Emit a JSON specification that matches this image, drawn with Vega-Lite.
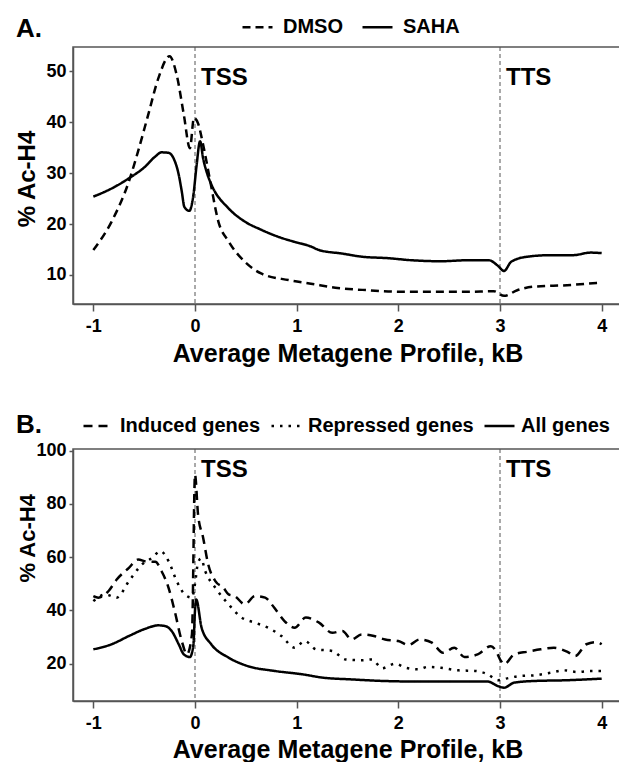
{
  "$schema": "https://vega.github.io/schema/vega-lite/v6.json",
  "background": "white",
  "autosize": {"type": "pad"},
  "padding": {"left": 14, "top": 9, "right": 0, "bottom": 0},
  "spacing": 145,
  "bounds": "flush",
  "config": {
    "font": "Liberation Sans",
    "view": {"stroke": "#555", "strokeWidth": 1.5},
    "axis": {
      "grid": false,
      "domainColor": "#555",
      "domainWidth": 1.5,
      "tickColor": "#555",
      "tickWidth": 1.5,
      "labelFont": "Liberation Sans",
      "labelFontWeight": "bold",
      "labelFontSize": 18,
      "labelColor": "black",
      "titleFont": "Liberation Sans",
      "titleFontWeight": "bold",
      "titleColor": "black"
    },
    "legend": {
      "orient": "none",
      "direction": "horizontal",
      "symbolType": "stroke",
      "symbolSize": 900,
      "symbolStrokeWidth": 2.5,
      "symbolStrokeColor": "black",
      "labelFont": "Liberation Sans",
      "labelFontSize": 20,
      "labelFontWeight": "bold",
      "labelColor": "black",
      "padding": 0,
      "labelLimit": 400
    }
  },
  "datasets": {
    "refs": [
      {"kb": 0, "label": "TSS"},
      {"kb": 3, "label": "TTS"}
    ],
    "a": [
      {"series": "SAHA", "kb": -1.0, "pct": 25.4},
      {"series": "SAHA", "kb": -0.82, "pct": 27.0},
      {"series": "SAHA", "kb": -0.65, "pct": 29.0},
      {"series": "SAHA", "kb": -0.49, "pct": 31.3},
      {"series": "SAHA", "kb": -0.39, "pct": 33.3},
      {"series": "SAHA", "kb": -0.33, "pct": 34.1},
      {"series": "SAHA", "kb": -0.26, "pct": 34.0},
      {"series": "SAHA", "kb": -0.21, "pct": 32.9},
      {"series": "SAHA", "kb": -0.16, "pct": 29.7},
      {"series": "SAHA", "kb": -0.13, "pct": 26.4},
      {"series": "SAHA", "kb": -0.105, "pct": 23.4},
      {"series": "SAHA", "kb": -0.056, "pct": 22.6},
      {"series": "SAHA", "kb": -0.016, "pct": 25.7},
      {"series": "SAHA", "kb": 0.016, "pct": 31.6},
      {"series": "SAHA", "kb": 0.05, "pct": 36.3},
      {"series": "SAHA", "kb": 0.08, "pct": 32.9},
      {"series": "SAHA", "kb": 0.12, "pct": 29.9},
      {"series": "SAHA", "kb": 0.163, "pct": 27.7},
      {"series": "SAHA", "kb": 0.33, "pct": 23.1},
      {"series": "SAHA", "kb": 0.49, "pct": 20.5},
      {"series": "SAHA", "kb": 0.65, "pct": 18.9},
      {"series": "SAHA", "kb": 0.82, "pct": 17.5},
      {"series": "SAHA", "kb": 0.98, "pct": 16.5},
      {"series": "SAHA", "kb": 1.14, "pct": 15.6},
      {"series": "SAHA", "kb": 1.22, "pct": 14.9},
      {"series": "SAHA", "kb": 1.45, "pct": 14.2},
      {"series": "SAHA", "kb": 1.64, "pct": 13.6},
      {"series": "SAHA", "kb": 1.9, "pct": 13.3},
      {"series": "SAHA", "kb": 2.13, "pct": 12.9},
      {"series": "SAHA", "kb": 2.42, "pct": 12.7},
      {"series": "SAHA", "kb": 2.68, "pct": 12.9},
      {"series": "SAHA", "kb": 2.89, "pct": 12.9},
      {"series": "SAHA", "kb": 2.98, "pct": 11.8},
      {"series": "SAHA", "kb": 3.04, "pct": 10.8},
      {"series": "SAHA", "kb": 3.11, "pct": 12.6},
      {"series": "SAHA", "kb": 3.27, "pct": 13.6},
      {"series": "SAHA", "kb": 3.5, "pct": 13.9},
      {"series": "SAHA", "kb": 3.72, "pct": 13.9},
      {"series": "SAHA", "kb": 3.89, "pct": 14.4},
      {"series": "SAHA", "kb": 4.0, "pct": 14.3},
      {"series": "DMSO", "kb": -1.0, "pct": 14.9},
      {"series": "DMSO", "kb": -0.82, "pct": 20.5},
      {"series": "DMSO", "kb": -0.65, "pct": 28.4},
      {"series": "DMSO", "kb": -0.56, "pct": 34.3},
      {"series": "DMSO", "kb": -0.46, "pct": 41.5},
      {"series": "DMSO", "kb": -0.36, "pct": 48.7},
      {"series": "DMSO", "kb": -0.25, "pct": 53.0},
      {"series": "DMSO", "kb": -0.18, "pct": 49.3},
      {"series": "DMSO", "kb": -0.11, "pct": 41.5},
      {"series": "DMSO", "kb": -0.05, "pct": 34.9},
      {"series": "DMSO", "kb": -0.01, "pct": 40.9},
      {"series": "DMSO", "kb": 0.03, "pct": 39.8},
      {"series": "DMSO", "kb": 0.08, "pct": 35.6},
      {"series": "DMSO", "kb": 0.15, "pct": 28.4},
      {"series": "DMSO", "kb": 0.23, "pct": 20.5},
      {"series": "DMSO", "kb": 0.33, "pct": 16.6},
      {"series": "DMSO", "kb": 0.49, "pct": 12.6},
      {"series": "DMSO", "kb": 0.65, "pct": 10.3},
      {"series": "DMSO", "kb": 0.92, "pct": 9.0},
      {"series": "DMSO", "kb": 1.14, "pct": 8.3},
      {"series": "DMSO", "kb": 1.38, "pct": 7.5},
      {"series": "DMSO", "kb": 1.71, "pct": 7.0},
      {"series": "DMSO", "kb": 2.03, "pct": 6.7},
      {"series": "DMSO", "kb": 2.36, "pct": 6.7},
      {"series": "DMSO", "kb": 2.68, "pct": 6.7},
      {"series": "DMSO", "kb": 2.94, "pct": 6.8},
      {"series": "DMSO", "kb": 3.04, "pct": 5.9},
      {"series": "DMSO", "kb": 3.17, "pct": 7.0},
      {"series": "DMSO", "kb": 3.33, "pct": 7.7},
      {"series": "DMSO", "kb": 3.66, "pct": 8.0},
      {"series": "DMSO", "kb": 3.98, "pct": 8.5}
    ],
    "b": [
      {"series": "All genes", "kb": -1.0, "pct": 25.4},
      {"series": "All genes", "kb": -0.82, "pct": 27.3},
      {"series": "All genes", "kb": -0.65, "pct": 30.4},
      {"series": "All genes", "kb": -0.49, "pct": 33.1},
      {"series": "All genes", "kb": -0.36, "pct": 34.4},
      {"series": "All genes", "kb": -0.29, "pct": 34.1},
      {"series": "All genes", "kb": -0.23, "pct": 32.3},
      {"series": "All genes", "kb": -0.16, "pct": 27.3},
      {"series": "All genes", "kb": -0.11, "pct": 23.5},
      {"series": "All genes", "kb": -0.05, "pct": 22.5},
      {"series": "All genes", "kb": -0.016, "pct": 27.0},
      {"series": "All genes", "kb": 0.0, "pct": 40.0},
      {"series": "All genes", "kb": 0.012, "pct": 44.1},
      {"series": "All genes", "kb": 0.065, "pct": 33.5},
      {"series": "All genes", "kb": 0.16, "pct": 27.3},
      {"series": "All genes", "kb": 0.33, "pct": 22.3},
      {"series": "All genes", "kb": 0.52, "pct": 19.1},
      {"series": "All genes", "kb": 0.78, "pct": 17.3},
      {"series": "All genes", "kb": 1.06, "pct": 16.0},
      {"series": "All genes", "kb": 1.25, "pct": 14.8},
      {"series": "All genes", "kb": 1.54, "pct": 14.1},
      {"series": "All genes", "kb": 1.87, "pct": 13.5},
      {"series": "All genes", "kb": 2.2, "pct": 13.3},
      {"series": "All genes", "kb": 2.52, "pct": 13.3},
      {"series": "All genes", "kb": 2.88, "pct": 13.3},
      {"series": "All genes", "kb": 2.98, "pct": 11.6},
      {"series": "All genes", "kb": 3.04, "pct": 11.0},
      {"series": "All genes", "kb": 3.14, "pct": 12.9},
      {"series": "All genes", "kb": 3.33, "pct": 13.5},
      {"series": "All genes", "kb": 3.66, "pct": 13.8},
      {"series": "All genes", "kb": 4.0, "pct": 14.4},
      {"series": "Induced genes", "kb": -1.0, "pct": 45.4},
      {"series": "Induced genes", "kb": -0.95, "pct": 44.8},
      {"series": "Induced genes", "kb": -0.85, "pct": 47.3},
      {"series": "Induced genes", "kb": -0.77, "pct": 51.6},
      {"series": "Induced genes", "kb": -0.65, "pct": 56.0},
      {"series": "Induced genes", "kb": -0.56, "pct": 59.1},
      {"series": "Induced genes", "kb": -0.47, "pct": 58.3},
      {"series": "Induced genes", "kb": -0.39, "pct": 58.3},
      {"series": "Induced genes", "kb": -0.33, "pct": 54.8},
      {"series": "Induced genes", "kb": -0.26, "pct": 48.5},
      {"series": "Induced genes", "kb": -0.2, "pct": 39.8},
      {"series": "Induced genes", "kb": -0.13, "pct": 28.5},
      {"series": "Induced genes", "kb": -0.08, "pct": 23.5},
      {"series": "Induced genes", "kb": -0.03, "pct": 31.0},
      {"series": "Induced genes", "kb": 0.0, "pct": 91.0},
      {"series": "Induced genes", "kb": 0.03, "pct": 76.0},
      {"series": "Induced genes", "kb": 0.08, "pct": 67.3},
      {"series": "Induced genes", "kb": 0.13, "pct": 57.3},
      {"series": "Induced genes", "kb": 0.2, "pct": 51.0},
      {"series": "Induced genes", "kb": 0.28, "pct": 48.5},
      {"series": "Induced genes", "kb": 0.33, "pct": 46.0},
      {"series": "Induced genes", "kb": 0.39, "pct": 45.4},
      {"series": "Induced genes", "kb": 0.49, "pct": 42.3},
      {"series": "Induced genes", "kb": 0.59, "pct": 45.4},
      {"series": "Induced genes", "kb": 0.69, "pct": 44.8},
      {"series": "Induced genes", "kb": 0.78, "pct": 41.0},
      {"series": "Induced genes", "kb": 0.88, "pct": 36.0},
      {"series": "Induced genes", "kb": 0.98, "pct": 33.5},
      {"series": "Induced genes", "kb": 1.09, "pct": 37.3},
      {"series": "Induced genes", "kb": 1.22, "pct": 35.4},
      {"series": "Induced genes", "kb": 1.35, "pct": 31.6},
      {"series": "Induced genes", "kb": 1.45, "pct": 32.3},
      {"series": "Induced genes", "kb": 1.54, "pct": 29.1},
      {"series": "Induced genes", "kb": 1.64, "pct": 31.0},
      {"series": "Induced genes", "kb": 1.76, "pct": 30.4},
      {"series": "Induced genes", "kb": 1.87, "pct": 29.1},
      {"series": "Induced genes", "kb": 2.0, "pct": 28.5},
      {"series": "Induced genes", "kb": 2.1, "pct": 27.0},
      {"series": "Induced genes", "kb": 2.21, "pct": 29.1},
      {"series": "Induced genes", "kb": 2.33, "pct": 27.9},
      {"series": "Induced genes", "kb": 2.44, "pct": 24.1},
      {"series": "Induced genes", "kb": 2.55, "pct": 26.0},
      {"series": "Induced genes", "kb": 2.65, "pct": 22.5},
      {"series": "Induced genes", "kb": 2.78, "pct": 23.5},
      {"series": "Induced genes", "kb": 2.91, "pct": 26.6},
      {"series": "Induced genes", "kb": 2.96, "pct": 24.8},
      {"series": "Induced genes", "kb": 3.01, "pct": 21.0},
      {"series": "Induced genes", "kb": 3.04, "pct": 19.8},
      {"series": "Induced genes", "kb": 3.14, "pct": 23.5},
      {"series": "Induced genes", "kb": 3.27, "pct": 24.5},
      {"series": "Induced genes", "kb": 3.4, "pct": 25.4},
      {"series": "Induced genes", "kb": 3.53, "pct": 26.0},
      {"series": "Induced genes", "kb": 3.66, "pct": 24.5},
      {"series": "Induced genes", "kb": 3.74, "pct": 22.9},
      {"series": "Induced genes", "kb": 3.85, "pct": 27.3},
      {"series": "Induced genes", "kb": 3.95, "pct": 28.1},
      {"series": "Induced genes", "kb": 4.0, "pct": 27.3},
      {"series": "Repressed genes", "kb": -1.0, "pct": 43.5},
      {"series": "Repressed genes", "kb": -0.88, "pct": 46.0},
      {"series": "Repressed genes", "kb": -0.77, "pct": 44.8},
      {"series": "Repressed genes", "kb": -0.65, "pct": 51.0},
      {"series": "Repressed genes", "kb": -0.52, "pct": 57.3},
      {"series": "Repressed genes", "kb": -0.42, "pct": 59.8},
      {"series": "Repressed genes", "kb": -0.34, "pct": 62.3},
      {"series": "Repressed genes", "kb": -0.26, "pct": 58.5},
      {"series": "Repressed genes", "kb": -0.18, "pct": 51.0},
      {"series": "Repressed genes", "kb": -0.1, "pct": 46.0},
      {"series": "Repressed genes", "kb": -0.03, "pct": 44.8},
      {"series": "Repressed genes", "kb": 0.0, "pct": 50.0},
      {"series": "Repressed genes", "kb": 0.03, "pct": 58.0},
      {"series": "Repressed genes", "kb": 0.06, "pct": 59.5},
      {"series": "Repressed genes", "kb": 0.1, "pct": 54.8},
      {"series": "Repressed genes", "kb": 0.2, "pct": 48.5},
      {"series": "Repressed genes", "kb": 0.33, "pct": 42.3},
      {"series": "Repressed genes", "kb": 0.46, "pct": 37.3},
      {"series": "Repressed genes", "kb": 0.59, "pct": 35.4},
      {"series": "Repressed genes", "kb": 0.72, "pct": 33.5},
      {"series": "Repressed genes", "kb": 0.85, "pct": 30.4},
      {"series": "Repressed genes", "kb": 0.98, "pct": 26.0},
      {"series": "Repressed genes", "kb": 1.08, "pct": 28.5},
      {"series": "Repressed genes", "kb": 1.19, "pct": 25.4},
      {"series": "Repressed genes", "kb": 1.35, "pct": 24.8},
      {"series": "Repressed genes", "kb": 1.48, "pct": 21.6},
      {"series": "Repressed genes", "kb": 1.64, "pct": 21.3},
      {"series": "Repressed genes", "kb": 1.74, "pct": 21.6},
      {"series": "Repressed genes", "kb": 1.84, "pct": 18.3},
      {"series": "Repressed genes", "kb": 1.97, "pct": 20.0},
      {"series": "Repressed genes", "kb": 2.07, "pct": 18.5},
      {"series": "Repressed genes", "kb": 2.2, "pct": 17.9},
      {"series": "Repressed genes", "kb": 2.29, "pct": 18.8},
      {"series": "Repressed genes", "kb": 2.42, "pct": 18.5},
      {"series": "Repressed genes", "kb": 2.59, "pct": 17.5},
      {"series": "Repressed genes", "kb": 2.75, "pct": 17.3},
      {"series": "Repressed genes", "kb": 2.88, "pct": 16.0},
      {"series": "Repressed genes", "kb": 2.98, "pct": 13.8},
      {"series": "Repressed genes", "kb": 3.07, "pct": 14.5},
      {"series": "Repressed genes", "kb": 3.2, "pct": 15.4},
      {"series": "Repressed genes", "kb": 3.33, "pct": 15.6},
      {"series": "Repressed genes", "kb": 3.5, "pct": 16.6},
      {"series": "Repressed genes", "kb": 3.63, "pct": 17.5},
      {"series": "Repressed genes", "kb": 3.76, "pct": 16.9},
      {"series": "Repressed genes", "kb": 3.89, "pct": 17.3},
      {"series": "Repressed genes", "kb": 4.0, "pct": 17.3}
    ]
  },
  "vconcat": [
    {
      "width": 549,
      "height": 257,
      "title": {"text": "A.", "anchor": "start", "frame": "group", "fontSize": 26, "fontWeight": "bold", "font": "Liberation Sans", "color": "black", "dx": -57, "dy": 52, "offset": 0, "baseline": "alphabetic"},
      "encoding": {
        "x": {
          "field": "kb", "type": "quantitative",
          "scale": {"domain": [-1.2, 4.2], "nice": false, "zero": false},
          "axis": {"title": "Average Metagene Profile, kB", "values": [-1, 0, 1, 2, 3, 4], "labelExpr": "'' + datum.value", "tickSize": 7, "labelPadding": 6, "titleFontSize": 25, "titleY": 57, "titleBaseline": "alphabetic"}
        }
      },
      "layer": [
        {"data": {"name": "refs"}, "mark": {"type": "rule", "color": "#555", "strokeDash": [4, 3], "strokeWidth": 1}},
        {"data": {"name": "refs"}, "mark": {"type": "text", "align": "left", "baseline": "middle", "dx": 6, "fontSize": 24, "fontWeight": "bold", "font": "Liberation Sans", "color": "black"},
          "encoding": {"y": {"datum": 48.7, "type": "quantitative"}, "text": {"field": "label"}}},
        {"data": {"name": "a"}, "mark": {"type": "line", "color": "black", "strokeWidth": 2.5, "interpolate": "monotone"},
          "encoding": {
            "y": {"field": "pct", "type": "quantitative", "scale": {"domain": [4.3, 54.8], "nice": false, "zero": false},
              "axis": {"title": "% Ac-H4", "values": [10, 20, 30, 40, 50], "tickSize": 4, "labelPadding": 3, "titleFontSize": 24, "titleX": -39, "titleY": 131.5, "titleBaseline": "alphabetic"}},
            "strokeDash": {"field": "series", "type": "nominal", "scale": {"domain": ["DMSO", "SAHA"], "range": [[8, 5], [1, 0]]},
              "legend": {"title": null, "legendX": 168, "legendY": -36.5, "labelOffset": 9, "columnPadding": 14}}
          }}
      ]
    },
    {
      "width": 549,
      "height": 252,
      "title": {"text": "B.", "anchor": "start", "frame": "group", "fontSize": 26, "fontWeight": "bold", "font": "Liberation Sans", "color": "black", "dx": -57, "dy": 50, "offset": 0, "baseline": "alphabetic"},
      "encoding": {
        "x": {
          "field": "kb", "type": "quantitative",
          "scale": {"domain": [-1.2, 4.2], "nice": false, "zero": false},
          "axis": {"title": "Average Metagene Profile, kB", "values": [-1, 0, 1, 2, 3, 4], "labelExpr": "'' + datum.value", "tickSize": 7, "labelPadding": 6, "titleFontSize": 25, "titleY": 56, "titleBaseline": "alphabetic"}
        }
      },
      "layer": [
        {"data": {"name": "refs"}, "mark": {"type": "rule", "color": "#555", "strokeDash": [4, 3], "strokeWidth": 1}},
        {"data": {"name": "refs"}, "mark": {"type": "text", "align": "left", "baseline": "middle", "dx": 6, "fontSize": 24, "fontWeight": "bold", "font": "Liberation Sans", "color": "black"},
          "encoding": {"y": {"datum": 92.6, "type": "quantitative"}, "text": {"field": "label"}}},
        {"data": {"name": "b"}, "mark": {"type": "line", "color": "black", "strokeWidth": 2.5, "interpolate": "monotone"},
          "encoding": {
            "y": {"field": "pct", "type": "quantitative", "scale": {"domain": [6, 100.6], "nice": false, "zero": false},
              "axis": {"title": "% Ac-H4", "values": [20, 40, 60, 80, 100], "tickSize": 4, "labelPadding": 3, "titleFontSize": 22, "titleX": -39, "titleY": 88.8, "titleBaseline": "alphabetic"}},
            "strokeDash": {"field": "series", "type": "nominal", "scale": {"domain": ["Induced genes", "Repressed genes", "All genes"], "range": [[9, 6], [2.5, 6], [1, 0]]},
              "legend": {"title": null, "legendX": 9, "legendY": -39.7, "labelOffset": 5, "columnPadding": 5}}
          }}
      ]
    }
  ],
  "resolve": {"scale": {"x": "independent", "y": "independent", "strokeDash": "independent"}, "legend": {"strokeDash": "independent"}}
}
